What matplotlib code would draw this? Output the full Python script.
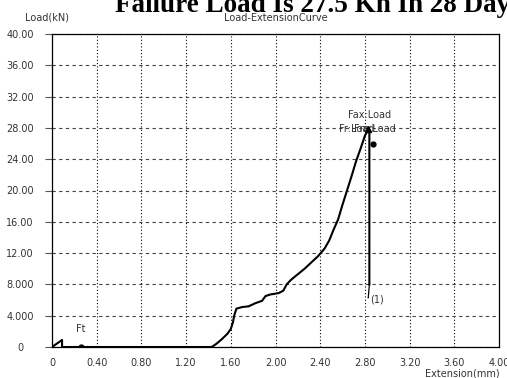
import numpy as np
import matplotlib
matplotlib.use("Agg")
import matplotlib.pyplot as plt

# Load-extension curve
ext = [0, 0.09, 0.09, 0.50, 1.00, 1.43, 1.47, 1.52, 1.57, 1.60, 1.62, 1.63, 1.65,
       1.70, 1.76, 1.82, 1.88, 1.91, 1.95, 2.03, 2.07, 2.10, 2.14, 2.20, 2.26,
       2.32, 2.38, 2.44, 2.48, 2.52, 2.56, 2.60, 2.64, 2.68, 2.72, 2.76, 2.80,
       2.83, 2.84, 2.84]
load = [0, 0.9, 0, 0, 0, 0, 0.4, 1.0, 1.7, 2.3, 3.2, 4.0, 4.9,
        5.1, 5.2, 5.6, 5.9, 6.5, 6.7, 6.9, 7.2, 8.0, 8.6, 9.3, 10.0,
        10.8, 11.6, 12.6, 13.6, 15.0, 16.3, 18.2, 20.0, 21.8, 23.7, 25.3, 27.0,
        27.8, 27.6, 8.0]
tail_x = [2.84, 2.83]
tail_y = [8.0, 6.3]

ft_x, ft_y = 0.26, 0
fm_x, fm_y = 2.87, 25.9
peak_x, peak_y = 2.83, 27.8

xticks = np.arange(0, 4.01, 0.4)
xlabels = ["0", "0.40", "0.80", "1.20", "1.60", "2.00", "2.40", "2.80", "3.20", "3.60", "4.00"]
yticks = np.arange(0, 40.1, 4)
ylabels = ["0", "4.000", "8.000", "12.00", "16.00", "20.00", "24.00", "28.00", "32.00", "36.00", "40.00"]

fig = plt.figure(figsize=(5.07, 3.78), dpi=100)
ax = fig.add_axes([52/507, 31/378, 447/507, 313/378])

ax.plot(ext, load, color="black", lw=1.5, zorder=3)
ax.plot(tail_x, tail_y, color="black", lw=0.9, zorder=3)
ax.plot(ft_x, ft_y, "o", color="black", ms=3.5, zorder=4)
ax.plot(fm_x, fm_y, "o", color="black", ms=3.5, zorder=4)
ax.plot(peak_x, peak_y, "^", color="black", ms=4, zorder=4)

ax.set_xlim(0, 4)
ax.set_ylim(0, 40)
ax.set_xticks(xticks)
ax.set_xticklabels(xlabels)
ax.set_yticks(yticks)
ax.set_yticklabels(ylabels)

for lab in ax.get_yticklabels():
    lab.set_ha("center")
ax.tick_params(axis="y", direction="out", length=5, width=0.8, color="#555555",
               pad=18, labelsize=7, labelcolor="#333333")
ax.tick_params(axis="x", length=0, pad=8, labelsize=7, labelcolor="#333333")

ax.grid(axis="x", linestyle=(0, (1, 2)), color="black", lw=0.8)
ax.grid(axis="y", linestyle=(0, (3, 3)), color="#444444", lw=0.8)
for s in ax.spines.values():
    s.set_color("black")
    s.set_linewidth(0.9)

txt = dict(fontsize=7, color="#333333")
ax.text(ft_x, 1.6, "Ft", ha="center", va="bottom", **txt)
ax.text(2.84, 29.0, "Fax:Load", ha="center", va="bottom", **txt)
ax.text(2.57, 27.2, "Fr:Load", ha="left", va="bottom", **txt)
ax.text(2.70, 27.2, "Fm:Load", ha="left", va="bottom", **txt)
ax.text(2.85, 5.4, "(1)", ha="left", va="bottom", **txt)

fig.text(25/507, 1 - 17/378, "Load(kN)", ha="left", va="center", **txt)
fig.text(276/507, 1 - 18/378, "Load-ExtensionCurve", ha="center", va="center", **txt)
fig.text(500/507, 1 - 373/378, "Extension(mm)", ha="right", va="center", **txt)
fig.text(115/507, 1 - 12/378, "Failure Load Is 27.5 Kn In 28 Days", ha="left",
         va="baseline", fontsize=19.5, fontweight="bold", family="Liberation Serif")

fig.savefig("out.png", dpi=100)
